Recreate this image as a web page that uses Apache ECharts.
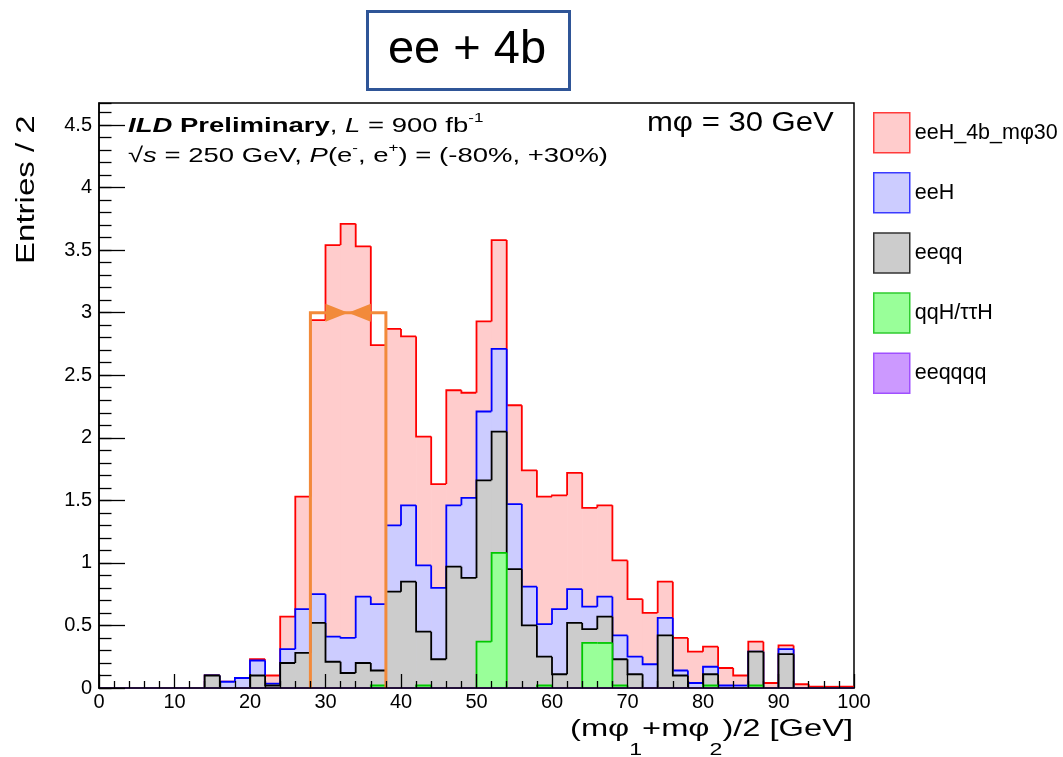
<!DOCTYPE html>
<html>
<head>
<meta charset="utf-8">
<script src="https://cdn.jsdelivr.net/npm/echarts@6/dist/echarts.min.js"></script>
<style>
html, body { margin: 0; background: #fff; }
#main { width: 1063px; height: 757px; }
</style>
</head>
<body>
<div id="main"></div>
<script>
// bins of 2 GeV, low edges
var binLow = [0, 2, 4, 6, 8, 10, 12, 14, 16, 18,
    20, 22, 24, 26, 28, 30, 32, 34, 36, 38,
    40, 42, 44, 46, 48, 50, 52, 54, 56, 58,
    60, 62, 64, 66, 68, 70, 72, 74, 76, 78,
    80, 82, 84, 86, 88, 90, 92, 94, 96, 98];
var binWidth = 2;

// per-process contents (entries / 2 GeV)
var sigMphi30 = [0, 0, 0, 0, 0, 0, 0, 0, 0, 0,
    0.01, 0.065, 0.26, 0.90, 2.19, 3.13, 3.31, 2.80, 2.07, 1.57,
    1.35, 1.03, 0.83, 0.92, 0.84, 0.72, 0.87, 0.79, 0.93, 1.02,
    0.91, 0.93, 0.79, 0.73, 0.60, 0.46, 0.41, 0.29, 0.26, 0.25,
    0.16, 0.14, 0.08, 0.08, 0.04, 0.03, 0.03, 0.01, 0.01, 0.01];
var eeH = [0, 0, 0, 0, 0, 0, 0, 0, 0.05, 0.08,
    0.12, 0.015, 0.11, 0.35, 0.23, 0.20, 0.28, 0.53, 0.53, 0.53,
    0.61, 0.53, 0.57, 0.49, 0.64, 0.55, 0.66, 0.52, 0.31, 0.26,
    0.52, 0.27, 0.18, 0.16, 0.19, 0.14, 0.19, 0.14, 0.04, 0.04,
    0.06, 0.02, 0.02, 0, 0, 0.04, 0, 0, 0, 0];
var eeqq = [0, 0, 0, 0, 0, 0, 0, 0.10, 0, 0,
    0.10, 0.02, 0.20, 0.28, 0.52, 0.21, 0.12, 0.20, 0.12, 0.77,
    0.85, 0.43, 0.23, 0.97, 0.88, 1.29, 0.97, 0.95, 0.50, 0.23,
    0.11, 0.52, 0.11, 0.21, 0.21, 0.11, 0, 0.42, 0.10, 0,
    0.09, 0, 0, 0.27, 0, 0.27, 0, 0, 0, 0];
var qqH = [0, 0, 0, 0, 0, 0, 0, 0, 0, 0,
    0, 0, 0, 0, 0, 0, 0, 0, 0.02, 0,
    0, 0.02, 0, 0, 0, 0.37, 1.08, 0, 0, 0.02,
    0, 0, 0.36, 0.36, 0.02, 0, 0, 0, 0, 0,
    0.02, 0, 0, 0.02, 0, 0, 0, 0, 0, 0];
var eeqqqq = [0, 0, 0, 0, 0, 0, 0, 0, 0, 0,
    0, 0, 0, 0, 0, 0, 0, 0, 0, 0,
    0, 0, 0, 0, 0, 0, 0, 0, 0, 0,
    0, 0, 0, 0, 0, 0, 0, 0, 0, 0,
    0, 0, 0, 0, 0, 0, 0, 0, 0, 0];

// drawn top of stack first, like THStack
var procNames = ['eeH_4b_mφ30', 'eeH', 'eeqq', 'qqH/ττH', 'eeqqqq'];
var procData = [sigMphi30, eeH, eeqq, qqH, eeqqqq];

// mass window marker: edges, height, arrow base/tip/base
var windowEdges = [28, 38];
var windowTop = 3;
var windowArrows = [30, 33, 36];

var xTicks = [0, 100, 10];
var yTicks = [0, 4.676, 0.5];

var fills = ['#ffcccc', '#ccccff', '#cccccc', '#99ff99', '#cc99ff'];
var strokes = ['#ff0000', '#0000ff', '#000000', '#00c800', '#9933ff'];
var legendBorders = ['#ff3b3b', '#3b3bff', '#333333', '#2fcc2f', '#a050ff'];
var FONT = 'Liberation Sans, Arial, Helvetica, sans-serif';

function fnt(size, weight, style) {
    return { fontFamily: FONT, fontSize: size, fontWeight: weight || 'normal', fontStyle: style || 'normal' };
}
function ext(a, b) { for (var k in b) a[k] = b[k]; return a; }

// cumulative stacks
var series = [];
procData.forEach(function (vals, k) {
    var cum = binLow.map(function (lo, i) {
        var s = 0;
        for (var j = k; j < procData.length; j++) s += procData[j][i];
        return s;
    });
    var data = binLow.map(function (lo, i) {
        return [lo, lo + binWidth, cum[i], i > 0 ? cum[i - 1] : 0];
    });
    var fill = fills[k], stroke = strokes[k];
    series.push({
        name: procNames[k],
        type: 'custom',
        z: 2,
        itemStyle: { color: fill, borderColor: legendBorders[k] },
        encode: { x: [0, 1], y: [2, 3] },
        data: data,
        renderItem: function (params, api) {
            var lo = api.value(0), hi = api.value(1), top = api.value(2), prev = api.value(3);
            var a = api.coord([lo, 0]), b = api.coord([hi, top]);
            var pts = [api.coord([lo, prev]), api.coord([lo, top]), b];
            if (params.dataIndex === binLow.length - 1) pts.push(api.coord([hi, 0]));
            return {
                type: 'group',
                children: [
                    { type: 'rect', shape: { x: a[0], y: b[1], width: b[0] - a[0] + 0.6, height: a[1] - b[1] }, style: { fill: fill } },
                    { type: 'polyline', shape: { points: pts }, style: { stroke: stroke, lineWidth: 1.8, fill: null } }
                ]
            };
        }
    });
});

series.push({
    type: 'custom',
    z: 3,
    silent: true,
    data: [[windowEdges[0], windowEdges[1], windowTop, windowArrows[0], windowArrows[1], windowArrows[2]]],
    renderItem: function (params, api) {
        var x0 = api.value(0), x1 = api.value(1), h = api.value(2);
        var p = function (x, y) { return api.coord([x, y]); };
        var yTop = p(x0, h)[1];
        var l0 = p(api.value(3), h)[0], tip = p(api.value(4), h)[0], r0 = p(api.value(5), h)[0];
        var c = '#f28a3a';
        return {
            type: 'group',
            children: [
                { type: 'polyline', shape: { points: [p(x0, 0), p(x0, h), p(x1, h), p(x1, 0)] }, style: { stroke: c, lineWidth: 3, fill: null } },
                { type: 'polygon', shape: { points: [[l0, yTop - 9], [l0, yTop + 9], [tip, yTop]] }, style: { fill: c } },
                { type: 'polygon', shape: { points: [[r0, yTop - 9], [r0, yTop + 9], [tip, yTop]] }, style: { fill: c } }
            ]
        };
    }
});

var tickLabel = { color: '#000', fontFamily: FONT, fontSize: 20 };

var option = {
    animation: false,
    backgroundColor: '#fff',
    grid: { left: 99, top: 103, width: 755, height: 585, show: true, borderColor: '#000', borderWidth: 1.5, backgroundColor: 'transparent' },
    xAxis: {
        type: 'value', min: xTicks[0], max: xTicks[1], interval: xTicks[2], z: 5,
        axisLine: { lineStyle: { color: '#000', width: 1.5 } },
        axisTick: { inside: true, length: 14, lineStyle: { color: '#000', width: 1.3 } },
        minorTick: { show: true, splitNumber: 5, length: 7, lineStyle: { color: '#000', width: 1.3 } },
        axisLabel: ext({ margin: 4 }, tickLabel),
        splitLine: { show: false }
    },
    yAxis: [{
        type: 'value', min: yTicks[0], max: yTicks[1], interval: yTicks[2], z: 5, position: 'left',
        axisLine: { lineStyle: { color: '#000', width: 1.5 } },
        axisTick: { inside: true, length: 26, lineStyle: { color: '#000', width: 1.3 } },
        axisLabel: ext({ margin: 7, showMaxLabel: false }, tickLabel),
        splitLine: { show: false }
    }, {
        type: 'value', min: yTicks[0], max: yTicks[1], interval: 0.1, z: 5, position: 'left',
        axisLine: { show: false },
        axisTick: { inside: true, length: 12.5, lineStyle: { color: '#000', width: 1.3 } },
        axisLabel: { show: false },
        splitLine: { show: false }
    }],
    legend: {
        orient: 'vertical', left: 873, top: 112, padding: 0,
        itemWidth: 36, itemHeight: 40, itemGap: 18.6,
        icon: 'rect', selectedMode: false,
        textStyle: { color: '#000', fontFamily: FONT, fontSize: 21.5 },
        data: procNames.map(function (n, k) {
            return { name: n, itemStyle: { color: fills[k], borderColor: legendBorders[k], borderWidth: 1.5 } };
        })
    },
    graphic: [
        { type: 'rect', left: 366, top: 10, shape: { width: 202, height: 78 }, style: { fill: '#fff', stroke: '#2f5597', lineWidth: 3 } },
        { type: 'text', x: 467, y: 50, style: ext({ text: 'ee + 4b', fill: '#000', align: 'center', textAlign: 'center', verticalAlign: 'middle', textVerticalAlign: 'middle' }, fnt(47)) },
        {
            type: 'text', x: 27, y: 264, rotation: Math.PI / 2, scaleX: 1.27,
            style: ext({ text: 'Entries / 2', fill: '#000', align: 'left', textAlign: 'left', verticalAlign: 'middle', textVerticalAlign: 'middle' }, fnt(26))
        },
        {
            type: 'text', x: 853, y: 729, scaleX: 1.36, z: 10,
            style: ext({
                text: '(mφ{s|1}+mφ{s|2})/2 [GeV]', fill: '#000', align: 'right', textAlign: 'right', verticalAlign: 'middle', textVerticalAlign: 'middle', lineHeight: 60,
                rich: { s: ext({ verticalAlign: 'bottom', lineHeight: 20 }, fnt(17)) }
            }, fnt(24))
        },
        {
            type: 'text', x: 128, y: 126, scaleX: 1.31, z: 10,
            style: ext({
                text: '{bi|ILD} {b|Preliminary}, {i|L} = 900 fb{sup|-1}', fill: '#000', align: 'left', textAlign: 'left', verticalAlign: 'middle', textVerticalAlign: 'middle', lineHeight: 28,
                rich: {
                    bi: ext({ lineHeight: 28 }, fnt(21, 'bold', 'italic')),
                    b: ext({ lineHeight: 28 }, fnt(21, 'bold')),
                    i: ext({ lineHeight: 28 }, fnt(21, 'normal', 'italic')),
                    sup: ext({ verticalAlign: 'top', lineHeight: 14 }, fnt(13))
                }
            }, fnt(21))
        },
        {
            type: 'text', x: 128, y: 156, scaleX: 1.31, z: 10,
            style: ext({
                text: '√{i|s} = 250 GeV, {i|P}(e{sup|-}, e{sup|+}) = (-80%, +30%)', fill: '#000', align: 'left', textAlign: 'left', verticalAlign: 'middle', textVerticalAlign: 'middle', lineHeight: 28,
                rich: {
                    i: ext({ lineHeight: 28 }, fnt(21, 'normal', 'italic')),
                    sup: ext({ verticalAlign: 'top', lineHeight: 14 }, fnt(13))
                }
            }, fnt(21))
        },
        {
            type: 'text', x: 647, y: 124, scaleX: 1.15, z: 10,
            style: ext({ text: 'mφ = 30 GeV', fill: '#000', align: 'left', textAlign: 'left', verticalAlign: 'middle', textVerticalAlign: 'middle' }, fnt(27))
        }
    ],
    series: series
};

var myChart = echarts.init(document.getElementById('main'));
myChart.setOption(option);
</script>
</body>
</html>
